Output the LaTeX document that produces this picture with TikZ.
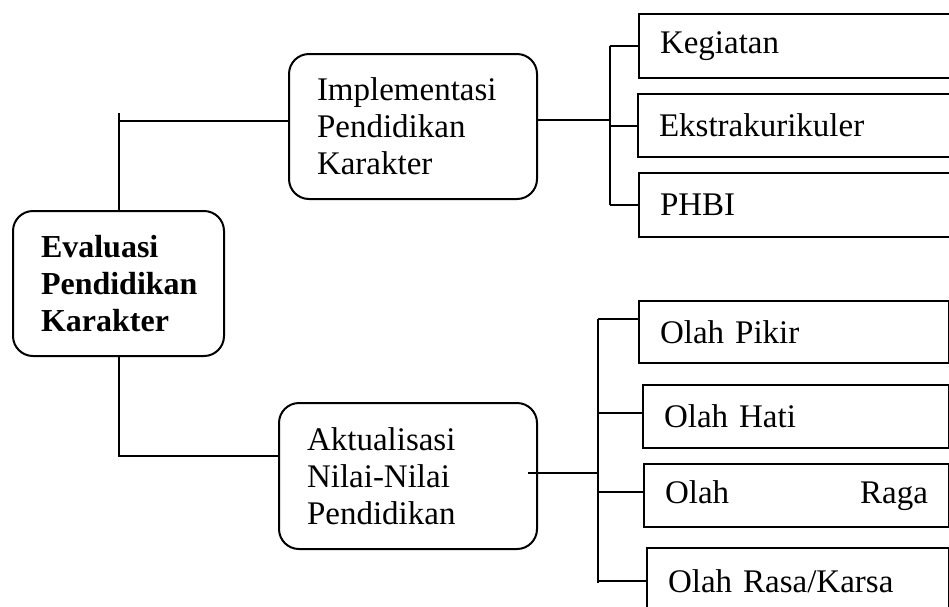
\documentclass[tikz,border=0pt]{standalone}
\usepackage{fontspec}
\setmainfont{Liberation Serif}

\begin{document}
\begin{tikzpicture}[x=1pt,y=-1pt,line width=2pt,
    topic/.style={draw,rounded corners=20pt,align=left,anchor=north west,
      inner xsep=28pt,font=\fontsize{33}{37}\selectfont},
    item/.style={draw,align=left,anchor=north west,
      inner xsep=21pt,font=\fontsize{33}{36}\selectfont}]

      \useasboundingbox (0,0) rectangle (949,606);

      % The three rounded boxes.
      \node [topic,text width=155pt,minimum height=145pt,
        font=\fontsize{32}{37}\selectfont\bfseries] (eval) at (12,210)
        {Evaluasi\\Pendidikan\\Karakter};
      \node [topic,text width=192pt,minimum height=145pt] (impl) at (288,53)
        {Implementasi\\Pendidikan\\Karakter};
      \node [topic,text width=202pt,minimum height=146pt] (aktu) at (278,402)
        {Aktualisasi\\Nilai-Nilai\\Pendidikan};

      % The upper items.
      \node [item,text width=280pt,minimum height=64pt] (keg) at (638,13) {Kegiatan};
      \node [item,text width=281pt,minimum height=63pt] (ekstra) at (637,93) {Ekstrakurikuler};
      \node [item,text width=280pt,minimum height=64pt] (phbi) at (638,172) {PHBI};

      % The lower items.
      \node [item,text width=268pt,minimum height=62pt] (pikir) at (638,300) {Olah Pikir};
      \node [item,text width=264pt,minimum height=63pt] (hati) at (642,384) {Olah Hati};
      \node [item,text width=263pt,minimum height=63pt] (raga) at (643,463) {Olah\hfill Raga};
      \node [item,text width=260pt,minimum height=66pt] (rasa) at (646,547) {Olah Rasa/Karsa};

      % Ports and buses.
      \coordinate (implin) at ([yshift=6pt]impl.west);
      \coordinate (implout) at ([yshift=7pt]impl.east);
      \coordinate (aktuin) at ([yshift=20pt]aktu.west);
      \coordinate (aktuout) at ([shift={(-10pt,3pt)}]aktu.east);
      \coordinate (pikirin) at ([yshift=13pt]pikir.west);
      \coordinate (busA) at (610,0);
      \coordinate (busB) at (598,0);
      \coordinate (busBend) at (598,583);

      % From the main box.
      \draw (eval.north) -- ++(0,-97);
      \draw (eval.north |- implin) -- (implin);
      \draw (eval.south) |- (aktuin);

      % The upper bus.
      \draw (implout) -- (implout -| busA);
      \draw (keg.west -| busA) -- (phbi.west -| busA);
      \foreach \n in {keg,ekstra,phbi}
        \draw (\n.west -| busA) -- (\n.west);

      % The lower bus.
      \draw (aktuout) -- (aktuout -| busB);
      \draw (pikirin -| busB) -- (busBend);
      \draw (pikirin -| busB) -- (pikirin);
      \foreach \n in {hati,raga}
        \draw ([yshift=3.5pt]\n.west -| busB) -- ([yshift=3.5pt]\n.west);
      \draw (rasa.west -| busB) -- (rasa.west);

    \end{tikzpicture}
\end{document}
